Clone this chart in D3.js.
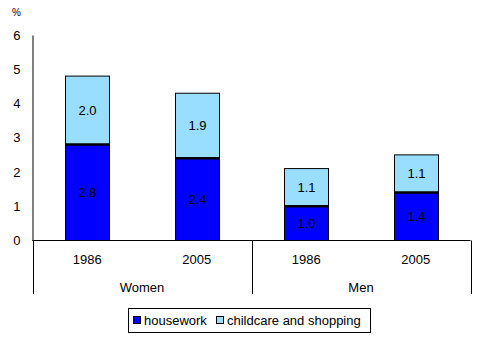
<!DOCTYPE html>
<html><head><meta charset="utf-8">
<script src="https://cdn.jsdelivr.net/npm/d3@7"></script>
<style>body{margin:0;background:#fff}svg{display:block}text{font-family:"Liberation Sans",Arial,sans-serif;fill:#000}</style>
</head><body><svg id="c" width="484" height="339"></svg>
<script>
const groups = ["Women","Women","Men","Men"];
const years = ["1986","2005","1986","2005"];
const housework = [2.8,2.4,1.0,1.4];
const childcare = [2.0,1.9,1.1,1.1];
const housLabels = ["2.8","2.4","1.0","1.4"];
const childLabels = ["2.0","1.9","1.1","1.1"];
const yTicks = [0,1,2,3,4,5,6];
const seriesNames = ["housework","childcare and shopping"];
const colors = ["#0000FF","#99DDFF"];

const svg = d3.select("#c");
const x0 = 32.5, x1 = 470.5, yTop = 35, yBot = 240.5;
const y = d3.scaleLinear().domain([0,6]).range([yBot, yTop]);
const idx = d3.range(years.length);
const x = d3.scaleBand().domain(idx).range([x0, x1]).paddingInner(0.6).paddingOuter(0.3);
const xc = d3.scaleBand().domain(idx).range([x0, x1]);

// y axis
const ya = svg.append("g").attr("transform",`translate(${x0},0)`)
  .call(d3.axisLeft(y).tickValues(yTicks).tickFormat(d3.format("d")).tickSize(0).tickPadding(12));
ya.select(".domain").attr("stroke","#000");
ya.selectAll("text").style("font-size","13px").style("font-family","Liberation Sans, Arial, sans-serif");
svg.append("text").attr("x",12).attr("y",16).style("font-size","10px").text("%");

// bars
const stacked = idx.map(i => ({i, h:housework[i], c:childcare[i]}));
const g = svg.append("g");
stacked.forEach(d => {
  const bx = Math.round(x(d.i))+0.5, bw = Math.round(x.bandwidth());
  g.append("rect").attr("x",bx).attr("y",y(d.h+d.c)).attr("width",bw).attr("height",y(d.h)-y(d.h+d.c))
    .attr("fill",colors[1]).attr("stroke","#000").attr("stroke-width",1);
  g.append("rect").attr("x",bx).attr("y",y(d.h)).attr("width",bw).attr("height",y(0)-y(d.h))
    .attr("fill",colors[0]).attr("stroke","#000").attr("stroke-width",1);
  g.append("line").attr("x1",bx).attr("x2",bx+bw).attr("y1",y(d.h)).attr("y2",y(d.h))
    .attr("stroke","#000").attr("stroke-width",2.5);
  g.append("text").attr("x",bx+bw/2).attr("y",y(d.h/2)).attr("dy","0.35em").attr("text-anchor","middle")
    .style("font-size","13px").text(housLabels[d.i]);
  g.append("text").attr("x",bx+bw/2).attr("y",y(d.h+d.c/2)).attr("dy","0.35em").attr("text-anchor","middle")
    .style("font-size","13px").text(childLabels[d.i]);
});

// x axis
svg.append("line").attr("x1",x0).attr("x2",x1).attr("y1",yBot).attr("y2",yBot).attr("stroke","#000");
[x0, xc(2), x1].forEach(px => {
  const p = Math.round(px)+0.5;
  svg.append("line").attr("x1",p).attr("x2",p).attr("y1",yBot).attr("y2",294).attr("stroke","#000");
});
idx.forEach(i => {
  svg.append("text").attr("x",xc(i)+xc.bandwidth()/2).attr("y",264).attr("text-anchor","middle")
    .style("font-size","13px").text(years[i]);
});
const grpNames = Array.from(new Set(groups));
grpNames.forEach(gn => {
  const ids = idx.filter(i => groups[i]===gn);
  const cx = (xc(ids[0]) + xc(ids[ids.length-1]) + xc.bandwidth())/2;
  svg.append("text").attr("x",cx).attr("y",292).attr("text-anchor","middle").style("font-size","13px").text(gn);
});

// legend
const lg = svg.append("g");
lg.append("rect").attr("x",128.5).attr("y",308.5).attr("width",242).attr("height",24).attr("fill","#fff").attr("stroke","#000");
const lx = [133, 216];
seriesNames.forEach((s,i) => {
  lg.append("rect").attr("x",lx[i]+0.5).attr("y",316.5).attr("width",7).attr("height",7).attr("fill",colors[i]).attr("stroke","#000");
  lg.append("text").attr("x",lx[i]+11).attr("y",325).style("font-size","13px").text(s);
});
</script></body></html>
